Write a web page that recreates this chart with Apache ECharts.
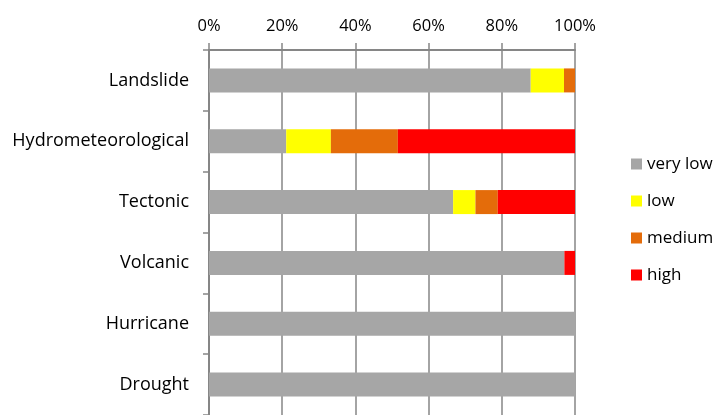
<!DOCTYPE html>
<html>
<head>
<meta charset="utf-8">
<script src="https://cdn.jsdelivr.net/npm/echarts@6/dist/echarts.min.js"></script>
<style>
  html, body { margin: 0; padding: 0; background: #ffffff; }
  #chart { width: 720px; height: 415px; }
</style>
</head>
<body>
<div id="chart"></div>
<script>
// Hazard categories, listed top to bottom
const categories = ['Landslide', 'Hydrometeorological', 'Tectonic', 'Volcanic', 'Hurricane', 'Drought'];

// Share of each risk level per hazard (percent)
const veryLow = [87.9, 21.1, 66.7, 97.1, 100, 100];
const low     = [9.1, 12.2, 6.1, 0, 0, 0];
const medium  = [3.0, 18.3, 6.1, 0, 0, 0];
const high    = [0, 48.4, 21.1, 2.9, 0, 0];

const levelNames = ['very low', 'low', 'medium', 'high'];
const levelColors = ['#a6a6a6', '#ffff00', '#e46c0a', '#ff0000'];
const levelData = [veryLow, low, medium, high];

const fontFamily = '"Open Sans", "Noto Sans", sans-serif';
const lineColor = '#868686';

const chart = echarts.init(document.getElementById('chart'), null, { renderer: 'canvas' });

chart.setOption({
  animation: false,
  backgroundColor: '#ffffff',
  grid: { left: 209, top: 50, right: 145, height: 368, containLabel: false },
  legend: {
    orient: 'vertical',
    left: 626,
    top: 147,
    padding: 5,
    itemWidth: 11,
    itemHeight: 11,
    itemGap: 13,
    icon: 'rect',
    textStyle: { fontFamily: fontFamily, fontSize: 17, color: '#000000', lineHeight: 24 },
    data: levelNames
  },
  xAxis: {
    type: 'value',
    position: 'top',
    min: 0,
    max: 100,
    interval: 20,
    axisLine: { show: true, lineStyle: { color: lineColor, width: 2 } },
    axisTick: { show: true, length: 7, lineStyle: { color: lineColor, width: 1.5 } },
    splitLine: { show: true, lineStyle: { color: lineColor, width: 1.5 } },
    axisLabel: {
      formatter: '{value}%',
      fontFamily: fontFamily,
      fontSize: 16.5,
      color: '#000000',
      margin: 15
    }
  },
  yAxis: {
    type: 'category',
    inverse: true,
    data: categories,
    axisLine: { show: true, lineStyle: { color: lineColor, width: 2 } },
    axisTick: { show: true, length: 6, lineStyle: { color: lineColor, width: 1.5 } },
    axisLabel: {
      fontFamily: fontFamily,
      fontSize: 18,
      color: '#000000',
      margin: 20
    }
  },
  series: levelNames.map((name, i) => ({
    name: name,
    type: 'bar',
    stack: 'total',
    barWidth: 24,
    data: levelData[i],
    itemStyle: { color: levelColors[i] }
  }))
});
</script>
</body>
</html>
